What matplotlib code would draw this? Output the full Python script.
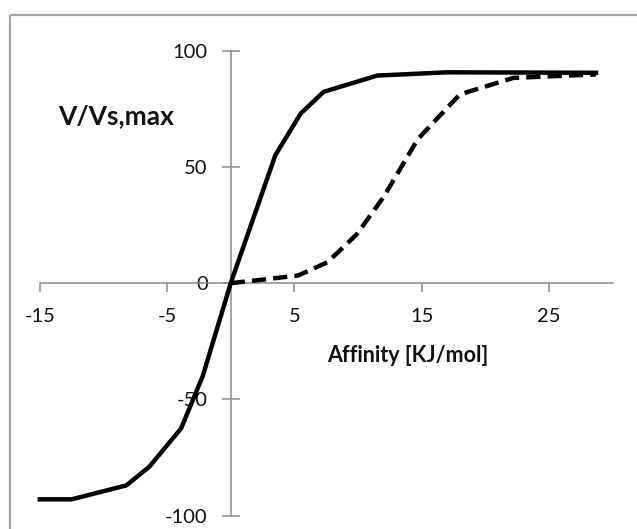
import matplotlib
matplotlib.use("Agg")
import matplotlib.pyplot as plt
from matplotlib.lines import Line2D

plt.rcParams['font.family'] = ['Lato', 'DejaVu Sans']

# Data
solid_x = [-15, -12.5, -8.2, -6.4, -3.9, -2.2, 0, 3.5, 5.5, 7.3, 11.5, 17.0, 28.7]
solid_y = [-93, -93, -87, -79, -62.5, -40, 0, 55, 73, 82.3, 89.3, 90.7, 90.5]

dashed_x = [0, 2.5, 5.3, 7.6, 9.9, 12.0, 14.7, 18.0, 22.2, 28.7]
dashed_y = [0, 1.5, 3.3, 9, 21, 37, 62, 81.2, 88.3, 89.8]

x_ticks = [-15, -5, 5, 15, 25]
y_ticks = [-100, -50, 0, 50, 100]
x_label = "Affinity [KJ/mol]"
y_label = "V/Vs,max"

W, H = 637, 529
dpi = 100
fig = plt.figure(figsize=(W / dpi, H / dpi), dpi=dpi)
fig.patch.set_facecolor('white')

# chart frame (left and top edges visible)
fc = '#a6a6a6'
fig.add_artist(Line2D([10 / W, 10 / W], [0, 1 - 15 / H], transform=fig.transFigure,
                      color=fc, lw=1.6, solid_capstyle='butt'))
fig.add_artist(Line2D([10 / W, 1], [1 - 15 / H, 1 - 15 / H], transform=fig.transFigure,
                      color=fc, lw=1.6, solid_capstyle='butt'))

left = 39.8 / W
right = 612.6 / W
top = 1 - 50.7 / H
bottom = 1 - 515.6 / H
ax = fig.add_axes([left, bottom, right - left, top - bottom])
ax.set_xlim(-15, 30)
ax.set_ylim(-100, 100)
ax.patch.set_alpha(0)

for s in ['top', 'right']:
    ax.spines[s].set_visible(False)
ax.spines['left'].set_position(('data', 0))
ax.spines['bottom'].set_position(('data', 0))
axis_col = '#8c8c8c'
for s in ['left', 'bottom']:
    ax.spines[s].set_color(axis_col)
    ax.spines[s].set_linewidth(1.1)

ax.set_xticks(x_ticks)
ax.set_yticks(y_ticks)
ax.set_xticklabels([str(v) for v in x_ticks])
ax.set_yticklabels([str(v) for v in y_ticks])
ax.tick_params(axis='x', direction='out', length=6.5, width=1.1, color=axis_col,
               labelsize=14.5, labelcolor='#111111', pad=11.5)
ax.tick_params(axis='y', direction='inout', length=13, width=1.1, color=axis_col,
               labelsize=14.5, labelcolor='#111111', pad=10)

ax.plot(solid_x, solid_y, color='black', lw=3.2, solid_joinstyle='miter',
        clip_on=False, zorder=3)
ax.plot(dashed_x, dashed_y, color='black', lw=3.2, dashes=(3.2, 1.6),
        dash_capstyle='butt', clip_on=False, zorder=3)

fig.text(116 / W, 1 - 116 / H, y_label, ha='center', va='center',
         fontsize=19, fontweight='bold', color='#111111')
fig.text(408 / W, 1 - 356 / H, x_label, ha='center', va='center',
         fontsize=15.5, fontweight='bold', color='#111111')

fig.savefig('out.png', dpi=dpi, facecolor='white')
